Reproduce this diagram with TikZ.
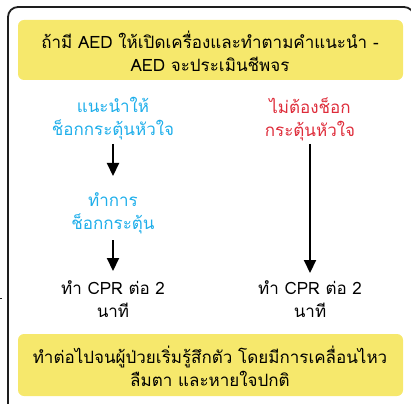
\documentclass[tikz,border=0pt]{standalone}
\usepackage{fontspec}
\newfontfamily\thaifont[Script=Thai]{Loma}
\usetikzlibrary{arrows.meta}
\definecolor{boxyellow}{RGB}{246,232,108}
\definecolor{skyblue}{RGB}{30,174,234}
\definecolor{redtxt}{RGB}{222,44,58}
\definecolor{frame}{RGB}{30,30,30}
\tikzset{
  txt/.style={font=\thaifont\fontsize{17}{23}\selectfont, align=center, inner sep=0pt},
  yellowbox/.style={fill=boxyellow, draw=none, rounded corners=6pt},
  arr/.style={line width=2.1pt, -{Triangle[width=12pt,length=13pt]}}
}
\begin{document}
\begin{tikzpicture}[x=1pt,y=-1pt]
\useasboundingbox (0,0) rectangle (411,403);
\draw[frame, line width=1.8pt, rounded corners=10pt] (8,7) rectangle (414,420);
\draw[frame, line width=1pt] (0,298) -- (2,298);
\fill[yellowbox] (18,20) rectangle (403,80);
\fill[yellowbox] (18,334) rectangle (403,396);
\node[txt] (top) at (210,51) {ถ้ามี AED ให้เปิดเครื่องและทำตามคำแนะนำ -\\AED จะประเมินชีพจร};
\node[txt, text=skyblue] (shock) at (113,119) {แนะนำให้\\ช็อกกระตุ้นหัวใจ};
\node[txt, text=redtxt] (noshock) at (310,119) {ไม่ต้องช็อก\\กระตุ้นหัวใจ};
\node[txt, text=skyblue] (doshock) at (113,213) {ทำการ\\ช็อกกระตุ้น};
\node[txt] (cprl) at (113,299) {ทำ CPR ต่อ 2\\นาที};
\node[txt] (cprr) at (310,299) {ทำ CPR ต่อ 2\\นาที};
\node[txt] (bottom) at (210,366) {ทำต่อไปจนผู้ป่วยเริ่มรู้สึกตัว โดยมีการเคลื่อนไหว\\ลืมตา และหายใจปกติ};
\coordinate (a1s) at (113,144);
\coordinate (a1e) at (113,176);
\coordinate (a2s) at (113,240);
\coordinate (a2e) at (113,271);
\coordinate (a3s) at (310,144);
\coordinate (a3e) at (310,273);
\draw[arr] (a1s) -- (a1e);
\draw[arr] (a2s) -- (a2e);
\draw[arr] (a3s) -- (a3e);
\end{tikzpicture}
\end{document}
